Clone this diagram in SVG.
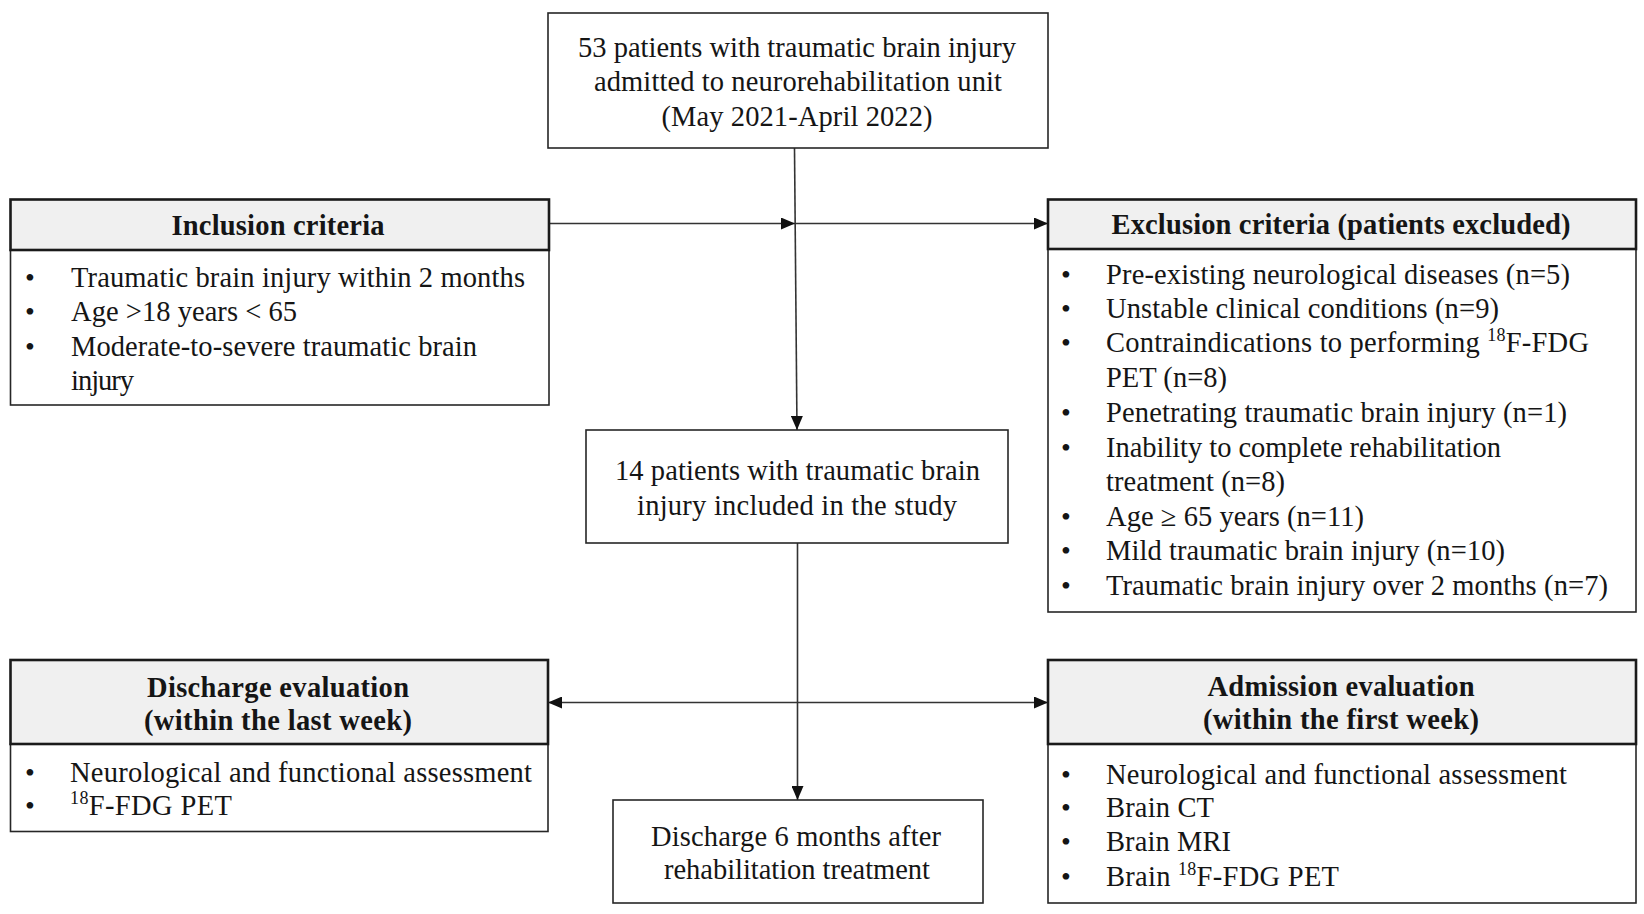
<svg xmlns="http://www.w3.org/2000/svg" width="1644" height="914" viewBox="0 0 1644 914">
<defs>
<style>
text{font-family:"Liberation Serif","Times New Roman",serif;font-size:28.5px;fill:#151515}
.b{font-weight:bold}
.c{text-anchor:middle}
.box{fill:#fff;stroke:#262626;stroke-width:1.6}
.hdr{fill:#f0f0f0;stroke:#1a1a1a;stroke-width:2.6}
.ln{fill:none;stroke:#333;stroke-width:1.6}
.sup{font-size:18px}
.bul{font-size:28px}
</style>
<marker id="ah" viewBox="0 0 14 12" refX="14" refY="6" markerWidth="14" markerHeight="12" markerUnits="userSpaceOnUse" orient="auto-start-reverse">
<path d="M0,0 L14,6 L0,12 Z" fill="#111"/>
</marker>
</defs>
<rect width="1644" height="914" fill="#fff"/>

<g id="connectors">
<path class="ln" d="M794.5,148 L797,430" marker-end="url(#ah)"/>
<path class="ln" d="M549,223.5 H795" marker-end="url(#ah)"/>
<path class="ln" d="M795,223.5 H1048" marker-end="url(#ah)"/>
<path class="ln" d="M797.5,543 V800" marker-end="url(#ah)"/>
<path class="ln" d="M548,702.5 H1048" marker-start="url(#ah)" marker-end="url(#ah)"/>
</g>

<g id="n-start">
<rect class="box" x="548" y="13" width="500" height="135"/>
<text class="c" x="797" y="57" textLength="438" lengthAdjust="spacing">53 patients with traumatic brain injury</text>
<text class="c" x="798" y="91" textLength="408" lengthAdjust="spacing">admitted to neurorehabilitation  unit</text>
<text class="c" x="797" y="126" textLength="271" lengthAdjust="spacing">(May 2021-April  2022)</text>
</g>

<g id="n-inclusion">
<rect class="box" x="10.5" y="250" width="538.5" height="155"/>
<rect class="hdr" x="10.5" y="199.5" width="538.5" height="50.5"/>
<text class="b c" x="278" y="235" textLength="213" lengthAdjust="spacing">Inclusion criteria</text>
<text class="bul" x="25" y="287">•</text>
<text class="bul" x="25" y="321">•</text>
<text class="bul" x="25" y="356">•</text>
<text x="71" y="287" textLength="454" lengthAdjust="spacing">Traumatic brain injury within 2 months</text>
<text x="71" y="321" textLength="226" lengthAdjust="spacing">Age &gt;18 years &lt; 65</text>
<text x="71" y="356" textLength="406" lengthAdjust="spacing">Moderate-to-severe traumatic brain</text>
<text x="71" y="390" textLength="63" lengthAdjust="spacing">injury</text>
</g>

<g id="n-exclusion">
<rect class="box" x="1048" y="249" width="588" height="363"/>
<rect class="hdr" x="1048" y="199.5" width="588" height="49.5"/>
<text class="b c" x="1341" y="234" textLength="459" lengthAdjust="spacing">Exclusion criteria (patients excluded)</text>
<text class="bul" x="1061" y="284">•</text>
<text class="bul" x="1061" y="318">•</text>
<text class="bul" x="1061" y="352">•</text>
<text class="bul" x="1061" y="422">•</text>
<text class="bul" x="1061" y="457">•</text>
<text class="bul" x="1061" y="526">•</text>
<text class="bul" x="1061" y="560">•</text>
<text class="bul" x="1061" y="595">•</text>
<text x="1106" y="284" textLength="464" lengthAdjust="spacing">Pre-existing neurological diseases (n=5)</text>
<text x="1106" y="318" textLength="393" lengthAdjust="spacing">Unstable clinical  conditions (n=9)</text>
<text x="1106" y="352" textLength="483" lengthAdjust="spacing">Contraindications to performing <tspan class="sup" dy="-11">18</tspan><tspan dy="11">F-FDG</tspan></text>
<text x="1106" y="387" textLength="121" lengthAdjust="spacing">PET (n=8)</text>
<text x="1106" y="422" textLength="461" lengthAdjust="spacing">Penetrating traumatic brain injury (n=1)</text>
<text x="1106" y="457" textLength="395" lengthAdjust="spacing">Inability to complete rehabilitation</text>
<text x="1106" y="491" textLength="179" lengthAdjust="spacing">treatment (n=8)</text>
<text x="1106" y="526" textLength="258" lengthAdjust="spacing">Age ≥ 65 years (n=11)</text>
<text x="1106" y="560" textLength="399" lengthAdjust="spacing">Mild traumatic brain injury (n=10)</text>
<text x="1106" y="595" textLength="502" lengthAdjust="spacing">Traumatic brain injury over 2 months (n=7)</text>
</g>

<g id="n-included">
<rect class="box" x="586" y="430" width="422" height="113"/>
<text class="c" x="797.5" y="480" textLength="365" lengthAdjust="spacing">14 patients with traumatic brain</text>
<text class="c" x="797" y="515" textLength="320" lengthAdjust="spacing">injury included in the study</text>
</g>

<g id="n-discharge-eval">
<rect class="box" x="10.5" y="744" width="537.5" height="87.5"/>
<rect class="hdr" x="10.5" y="660" width="537.5" height="84"/>
<text class="b c" x="278" y="697" textLength="262" lengthAdjust="spacing">Discharge evaluation</text>
<text class="b c" x="278" y="730" textLength="268" lengthAdjust="spacing">(within the last week)</text>
<text class="bul" x="25" y="782">•</text>
<text class="bul" x="25" y="815">•</text>
<text x="70" y="782" textLength="462" lengthAdjust="spacing">Neurological and functional assessment</text>
<text x="70" y="815" textLength="162" lengthAdjust="spacing"><tspan class="sup" dy="-11">18</tspan><tspan dy="11">F-FDG PET</tspan></text>
</g>

<g id="n-admission-eval">
<rect class="box" x="1048" y="744" width="588" height="159"/>
<rect class="hdr" x="1048" y="660" width="588" height="84"/>
<text class="b c" x="1341" y="696" textLength="267" lengthAdjust="spacing">Admission evaluation</text>
<text class="b c" x="1341" y="729" textLength="276" lengthAdjust="spacing">(within the first week)</text>
<text class="bul" x="1061" y="784">•</text>
<text class="bul" x="1061" y="817">•</text>
<text class="bul" x="1061" y="851">•</text>
<text class="bul" x="1061" y="886">•</text>
<text x="1106" y="784" textLength="461" lengthAdjust="spacing">Neurological and functional assessment</text>
<text x="1106" y="817" textLength="108" lengthAdjust="spacing">Brain CT</text>
<text x="1106" y="851" textLength="125" lengthAdjust="spacing">Brain MRI</text>
<text x="1106" y="886" textLength="233" lengthAdjust="spacing">Brain <tspan class="sup" dy="-11">18</tspan><tspan dy="11">F-FDG PET</tspan></text>
</g>

<g id="n-discharge">
<rect class="box" x="613" y="800" width="370" height="103"/>
<text class="c" x="796" y="846" textLength="290" lengthAdjust="spacing">Discharge 6 months after</text>
<text class="c" x="797" y="879" textLength="266" lengthAdjust="spacing">rehabilitation  treatment</text>
</g>
</svg>
